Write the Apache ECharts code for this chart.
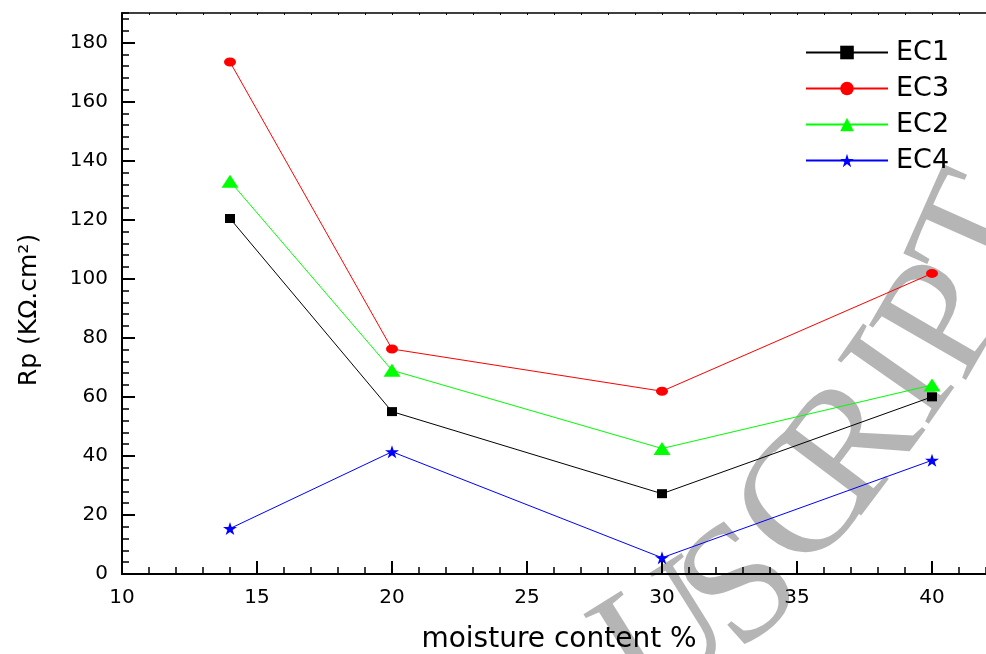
<!DOCTYPE html>
<html><head><meta charset="utf-8">
<script src="https://cdn.jsdelivr.net/npm/echarts@6/dist/echarts.min.js"></script>
<style>html,body{margin:0;padding:0;background:#fff}#c{width:986px;height:654px}</style>
</head><body><div id="c"></div>
<script>
// ---- data ----
const moisture = [14, 20, 30, 40];
const legendOrder = ['EC1', 'EC3', 'EC2', 'EC4'];
const ec1 = [120.4, 55.0, 27.2, 60.0];
const ec3 = [173.4, 76.2, 61.9, 101.8];
const ec2 = [133.0, 69.0, 42.5, 64.0];
const ec4 = [15.4, 41.4, 5.5, 38.5];
const xTickValues = [10, 15, 20, 25, 30, 35, 40];
const yTickValues = [0, 20, 40, 60, 80, 100, 120, 140, 160, 180];
const xTitle = 'moisture content %';
const yTitle = 'Rp (KΩ.cm²)';
const watermark = ['U', 'S', 'C', 'R', 'I', 'P', 'T'];

// ---- styling ----
const FONT = '"DejaVu Sans", sans-serif';
const STAR = 'path://M50 0 L61.23 34.55 L97.55 34.55 L68.17 55.9 L79.39 90.45 L50 69.1 L20.61 90.45 L31.83 55.9 L2.45 34.55 L38.77 34.55 Z';
const pair = arr => moisture.map((x, i) => [x, arr[i]]);

function mkSeries(name, data, color, symbol, size) {
  return {
    name, type: 'line', data: pair(data), xAxisIndex: 0, yAxisIndex: 0,
    symbol, symbolSize: size, showAllSymbol: true,
    lineStyle: { color, width: 1 }, itemStyle: { color },
    emphasis: { disabled: true }, z: 5
  };
}

const wmPos = [[668, 640, 32], [744, 590, 42], [808, 505, 51], [856, 448, 53], [905, 380, 55], [948, 322, 60], [984, 236, 66]];

const chart = echarts.init(document.getElementById('c'), null, { renderer: 'canvas' });
chart.setOption({
  animation: false,
  backgroundColor: '#fff',
  grid: { left: 122, top: 13, bottom: 80, right: 0, containLabel: false },
  xAxis: [
    { type: 'value', position: 'bottom', min: 10, max: 42, interval: 5,
      axisLine: { onZero: false, lineStyle: { color: '#000', width: 2 } },
      axisTick: { inside: true, length: 13, customValues: xTickValues, lineStyle: { color: '#000', width: 2 } },
      axisLabel: { color: '#000', fontSize: 20, fontFamily: FONT, margin: 14, customValues: xTickValues },
      splitLine: { show: false } },
    { type: 'value', position: 'bottom', min: 10, max: 42, interval: 1,
      axisLine: { show: false },
      axisTick: { inside: true, length: 7, lineStyle: { color: '#000', width: 1.5 } },
      axisLabel: { show: false }, splitLine: { show: false } },
    { type: 'value', position: 'top', min: 10, max: 42, interval: 1,
      axisLine: { onZero: false, lineStyle: { color: '#000', width: 1.5 } },
      axisTick: { inside: true, length: 2, lineStyle: { color: '#000', width: 1 } },
      axisLabel: { show: false }, splitLine: { show: false } }
  ],
  yAxis: [
    { type: 'value', position: 'left', min: 0, max: 190, interval: 20,
      axisLine: { show: true, onZero: false, lineStyle: { color: '#000', width: 2 } },
      axisTick: { inside: true, length: 13, customValues: yTickValues, lineStyle: { color: '#000', width: 2 } },
      axisLabel: { color: '#000', fontSize: 20, fontFamily: FONT, margin: 14, customValues: yTickValues },
      splitLine: { show: false } },
    { type: 'value', position: 'left', min: 0, max: 190, interval: 4,
      axisLine: { show: false },
      axisTick: { inside: true, length: 7, lineStyle: { color: '#000', width: 1.5 } },
      axisLabel: { show: false }, splitLine: { show: false } }
  ],
  legend: {
    data: legendOrder, orient: 'vertical', left: 800, top: 34,
    itemWidth: 82, itemHeight: 17, itemGap: 9,
    textStyle: { fontSize: 27, fontFamily: FONT, color: '#000', padding: [0, 0, 0, 3], lineHeight: 25 },
    itemStyle: { borderWidth: 0 }
  },
  graphic: [
    ...watermark.map((ch, i) => ({
      type: 'text', x: wmPos[i][0], y: wmPos[i][1], rotation: wmPos[i][2] * Math.PI / 180, z: -10, silent: true,
      style: { text: ch, font: '170px "Liberation Serif", serif', fill: '#b5b5b5', align: 'center', verticalAlign: 'middle' }
    })),
    { type: 'text', x: 559, y: 640, silent: true,
      style: { text: xTitle, font: '28px ' + FONT, fill: '#000', align: 'center', verticalAlign: 'middle' } },
    { type: 'text', x: 29, y: 310, rotation: Math.PI / 2, silent: true,
      style: { text: yTitle, font: '25px ' + FONT, fill: '#000', align: 'center', verticalAlign: 'middle' } }
  ],
  series: [
    mkSeries('EC1', ec1, '#000000', 'rect', [10, 9]),
    mkSeries('EC3', ec3, '#ff0000', 'circle', [12, 9]),
    mkSeries('EC2', ec2, '#00ff00', 'triangle', [17, 13]),
    mkSeries('EC4', ec4, '#0000ff', STAR, [14, 13])
  ]
});
</script></body></html>
